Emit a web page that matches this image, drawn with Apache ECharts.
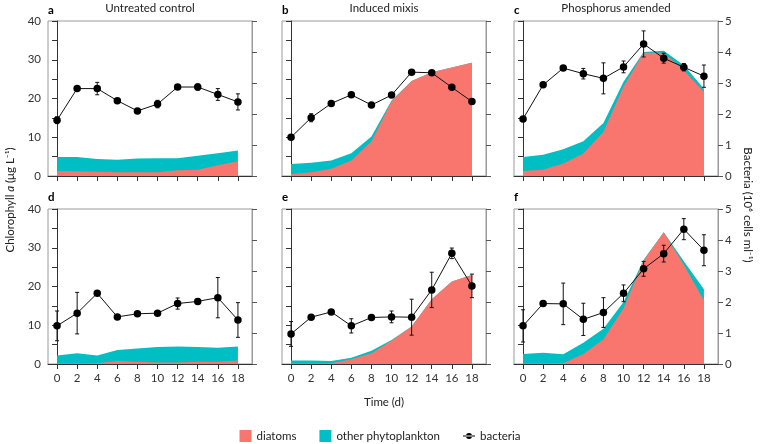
<!DOCTYPE html>
<html><head><meta charset="utf-8">
<script src="https://cdn.jsdelivr.net/npm/echarts@6/dist/echarts.min.js"></script>
<style>html,body{margin:0;padding:0;background:#fff}#c{width:760px;height:444px}</style>
</head><body><div id="c"></div>
<script>
// ---------- data ----------
const days = [0, 2, 4, 6, 8, 10, 12, 14, 16, 18];
const panelLetters = ['a', 'b', 'c', 'd', 'e', 'f'];
const panelTitles = ['Untreated control', 'Induced mixis', 'Phosphorus amended', '', '', ''];

// a: Untreated control
const diatomsA = [1.3, 1.2, 1.1, 1.0, 0.95, 0.95, 1.5, 1.6, 2.8, 3.8];
const otherA = [3.6, 3.7, 3.3, 3.2, 3.55, 3.65, 3.1, 3.6, 3.1, 2.8];
const bacteriaA = [1.80, 2.82, 2.82, 2.43, 2.10, 2.32, 2.87, 2.87, 2.63, 2.39];
const bacteriaErrA = [0.11, 0.04, 0.20, 0.04, 0.04, 0.12, 0.05, 0.10, 0.19, 0.26];
// b: Induced mixis
const diatomsB = [0.5, 1.0, 1.9, 4.0, 8.9, 19.3, 24.5, 26.8, 28.0, 29.2];
const otherB = [2.6, 2.4, 2.1, 1.9, 1.3, 0.2, 0, 0, 0, 0];
const bacteriaB = [1.25, 1.88, 2.34, 2.62, 2.29, 2.61, 3.35, 3.33, 2.86, 2.40];
const bacteriaErrB = [0.05, 0.13, 0.05, 0.05, 0.05, 0.05, 0.05, 0.05, 0.05, 0.05];
// c: Phosphorus amended
const diatomsC = [1.3, 1.6, 3.2, 5.8, 11.4, 23.1, 31.8, 31.8, 27.3, 21.7];
const otherC = [3.6, 3.9, 3.7, 3.2, 2.3, 1.2, 0.2, 0.5, 1.3, 0.8];
const bacteriaC = [1.84, 2.94, 3.48, 3.30, 3.15, 3.52, 4.26, 3.80, 3.51, 3.22];
const bacteriaErrC = [0.05, 0.05, 0.06, 0.17, 0.50, 0.19, 0.42, 0.16, 0.12, 0.36];
// d
const diatomsD = [0.1, 0.1, 0.2, 0.8, 0.6, 0.4, 0.4, 0.6, 0.6, 0.9];
const otherD = [2.1, 2.7, 2.0, 2.8, 3.4, 4.0, 4.1, 3.8, 3.6, 3.6];
const bacteriaD = [1.23, 1.64, 2.28, 1.52, 1.62, 1.64, 1.95, 2.02, 2.14, 1.42];
const bacteriaErrD = [0.48, 0.67, 0.07, 0.05, 0.05, 0.06, 0.18, 0.08, 0.65, 0.56];
// e
const diatomsE = [0.1, 0.1, 0.2, 1.2, 2.8, 6.0, 9.7, 16.7, 21.3, 23.0];
const otherE = [0.8, 0.8, 0.6, 0.4, 0.6, 0.2, 0, 0, 0, 0];
const bacteriaE = [0.97, 1.51, 1.68, 1.23, 1.50, 1.52, 1.51, 2.39, 3.57, 2.52];
const bacteriaErrE = [0.40, 0.05, 0.05, 0.23, 0.05, 0.19, 0.58, 0.57, 0.17, 0.38];
// f
const diatomsF = [0.1, 0.1, 0.2, 2.6, 6.4, 14.4, 26.7, 34.0, 25.6, 16.4];
const otherF = [2.5, 2.8, 2.3, 2.9, 2.7, 1.6, 0.2, 0, 0.9, 2.9];
const bacteriaF = [1.23, 1.95, 1.94, 1.44, 1.66, 2.28, 3.07, 3.56, 4.35, 3.67];
const bacteriaErrF = [0.52, 0.05, 0.67, 0.52, 0.48, 0.27, 0.24, 0.27, 0.34, 0.50];

const chlRange = [0, 40];
const bacRange = [0, 5];

const diatoms = [diatomsA, diatomsB, diatomsC, diatomsD, diatomsE, diatomsF];
const others = [otherA, otherB, otherC, otherD, otherE, otherF];
const bacteria = [bacteriaA, bacteriaB, bacteriaC, bacteriaD, bacteriaE, bacteriaF];
const bacteriaErr = [bacteriaErrA, bacteriaErrB, bacteriaErrC, bacteriaErrD, bacteriaErrE, bacteriaErrF];

// ---------- layout ----------
const FONT = 'Lato';
const lefts = [48, 282, 514];
const tops = [21, 209];
const W = 204, H = 155;
const DARK = '#333', GRAY = '#9a9a9a';
const RED = '#F8766D', TEAL = '#00BFC4';

const grids = [], xAxes = [], yAxes = [], series = [], graphics = [];
for (let i = 0; i < 6; i++) {
  const col = i % 3, row = Math.floor(i / 3);
  grids.push({left: lefts[col], top: tops[row], width: W, height: H, show: true,
    borderColor: GRAY, borderWidth: 1, backgroundColor: 'transparent'});
  xAxes.push({gridIndex: i, type: 'value', min: -0.9, max: 19.4,
    axisLine: {show: true, lineStyle: {color: DARK, width: 1}},
    axisTick: {show: true, length: 5, lineStyle: {color: DARK}, customValues: days},
    axisLabel: {show: row === 1, customValues: days, margin: 8, color: DARK, fontSize: 11.5, fontFamily: FONT},
    splitLine: {show: false}});
  yAxes.push({gridIndex: i, type: 'value', min: chlRange[0], max: chlRange[1], interval: 5, position: 'left',
    axisLine: {show: true, lineStyle: {color: DARK, width: 1}},
    axisTick: {show: true, length: 5, lineStyle: {color: DARK}},
    axisLabel: {show: col === 0, margin: 7, color: DARK, fontSize: 11.5, fontFamily: FONT,
      formatter: v => (v % 10 === 0 ? String(v) : '')},
    splitLine: {show: false}});
  yAxes.push({gridIndex: i, type: 'value', min: bacRange[0], max: bacRange[1], interval: 1, position: 'right',
    axisLine: {show: true, lineStyle: {color: GRAY, width: 1}},
    axisTick: {show: true, length: 5, lineStyle: {color: '#555'}},
    axisLabel: {show: col === 2, margin: 7, color: DARK, fontSize: 11.5, fontFamily: FONT},
    splitLine: {show: false}});

  // total chlorophyll (other phytoplankton sits on top of diatoms)
  series.push({name: 'other phytoplankton', type: 'line', xAxisIndex: i, yAxisIndex: 2 * i,
    data: days.map((d, k) => [d, diatoms[i][k] + others[i][k]]), symbol: 'none', color: TEAL,
    lineStyle: {width: 0}, areaStyle: {color: TEAL, opacity: 1}, z: 1});
  series.push({name: 'diatoms', type: 'line', xAxisIndex: i, yAxisIndex: 2 * i,
    data: days.map((d, k) => [d, diatoms[i][k]]), symbol: 'none', color: RED,
    lineStyle: {width: 0}, areaStyle: {color: RED, opacity: 1}, z: 2});
  series.push({name: 'bacteria_err', type: 'custom', xAxisIndex: i, yAxisIndex: 2 * i + 1, z: 3,
    data: days.map((d, k) => [d, bacteria[i][k], bacteriaErr[i][k]]),
    renderItem: (params, api) => {
      const x = api.value(0), y = api.value(1), e = api.value(2);
      const lo = api.coord([x, y - e]), hi = api.coord([x, y + e]);
      const w = 2, st = {stroke: '#111', lineWidth: 1};
      return {type: 'group', children: [
        {type: 'line', shape: {x1: lo[0], y1: lo[1], x2: hi[0], y2: hi[1]}, style: st},
        {type: 'line', shape: {x1: lo[0] - w, y1: lo[1], x2: lo[0] + w, y2: lo[1]}, style: st},
        {type: 'line', shape: {x1: hi[0] - w, y1: hi[1], x2: hi[0] + w, y2: hi[1]}, style: st}
      ]};
    }});
  series.push({name: 'bacteria', type: 'line', xAxisIndex: i, yAxisIndex: 2 * i + 1,
    data: days.map((d, k) => [d, bacteria[i][k]]), symbol: 'circle', symbolSize: 7.5, color: '#000',
    lineStyle: {color: '#111', width: 1}, itemStyle: {color: '#000'}, z: 4});

  const gl = lefts[col], gt = tops[row];
  graphics.push({type: 'text', left: gl, top: gt - (row === 0 ? 17 : 18),
    style: {text: panelLetters[i], font: 'bold 11.5px ' + FONT, fill: '#000'}});
  if (panelTitles[i]) {
    graphics.push({type: 'text', x: gl + W / 2, y: gt - 13,
      style: {text: panelTitles[i], font: '11.5px ' + FONT, fill: '#222', align: 'center', verticalAlign: 'middle'}});
  }
}

graphics.push({type: 'text', x: 10, y: 200, rotation: Math.PI / 2,
  style: {text: '{n|Chlorophyll }{i|a}{n| (μg L⁻¹)}', align: 'center', verticalAlign: 'middle',
    rich: {n: {fontSize: 11.5, fontFamily: FONT, fill: '#222'}, i: {fontSize: 11.5, fontFamily: FONT, fontStyle: 'italic', fill: '#222'}}}});
graphics.push({type: 'text', x: 748, y: 205, rotation: -Math.PI / 2,
  style: {text: 'Bacteria (10⁶ cells ml⁻¹)', align: 'center', verticalAlign: 'middle', font: '11.5px ' + FONT, fill: '#222'}});
graphics.push({type: 'text', x: 384, y: 402,
  style: {text: 'Time (d)', align: 'center', verticalAlign: 'middle', font: '11.5px ' + FONT, fill: '#222'}});

const chart = echarts.init(document.getElementById('c'), null, {renderer: 'canvas'});
chart.setOption({
  animation: false,
  backgroundColor: '#fff',
  grid: grids, xAxis: xAxes, yAxis: yAxes, series: series, graphic: graphics,
  legend: {top: 425, left: 'center', itemWidth: 12, itemHeight: 12, itemGap: 23,
    textStyle: {fontSize: 11.5, fontFamily: FONT, color: '#222'},
    data: [{name: 'diatoms', icon: 'rect'}, {name: 'other phytoplankton', icon: 'rect'},
      {name: 'bacteria', icon: 'path://M0,4.5h12v1h-12z M6,2a3,3 0 1,0 0.01,0z',
        itemStyle: {color: '#000', borderColor: '#000', borderWidth: 0}}]}
});
</script></body></html>
